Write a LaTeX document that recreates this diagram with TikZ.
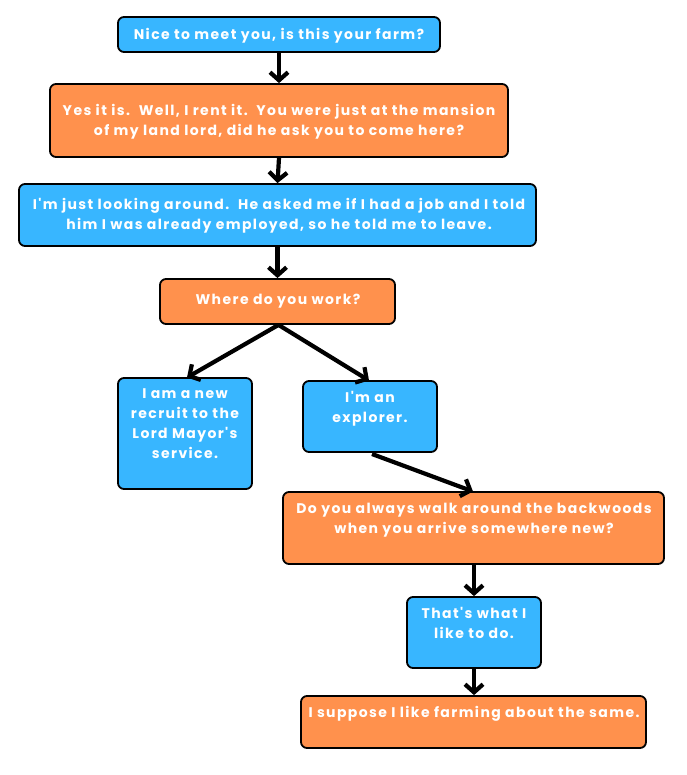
\documentclass[tikz,border=0pt]{standalone}
\usepackage{fontspec}
\newfontfamily\popfont{Poppins}[LetterSpace=10]
\usetikzlibrary{arrows.meta}
\definecolor{cblue}{HTML}{38B6FF}
\definecolor{corange}{HTML}{FF914D}
\tikzset{
  boxbase/.style={draw=black, line width=1.8pt, rounded corners=6pt, inner sep=0pt},
  bluebox/.style={boxbase, fill=cblue},
  orangebox/.style={boxbase, fill=corange},
  txt/.style={text=white, font=\popfont\bfseries\fontsize{14}{20}\selectfont, align=center, inner sep=0pt, anchor=north},
  arr/.style={line width=4.2pt, -{Straight Barb[length=8pt,width=18pt,line width=4.2pt]}, line join=round},
}
\newcommand{\bx}[6]{% name, style, x1, y1, x2, y2
  \node[#2, minimum width=#5-#3, minimum height=#6-#4] (#1) at ({(#3+#5)/2},{(#4+#6)/2}) {};
}
\begin{document}
\begin{tikzpicture}[x=1pt,y=-1pt]
\useasboundingbox (0,0) rectangle (686,775);
\bx{b1}{bluebox}{118}{17}{440}{52}
\bx{b2}{orangebox}{50}{84}{508}{157}
\bx{b3}{bluebox}{19}{184}{536}{246}
\bx{b4}{orangebox}{160}{279}{395}{324}
\bx{b5}{bluebox}{118}{378}{252}{489}
\bx{b6}{bluebox}{303}{381}{437}{452}
\bx{b7}{orangebox}{283}{492}{664}{564}
\bx{b8}{bluebox}{407}{597}{541}{668}
\bx{b9}{orangebox}{301}{696}{646}{748}

\node[txt] (t1) at (279,28) {Nice to meet you, is this your farm?};
\node[txt] (t2) at (279,104) {Yes it is.\ \ Well, I rent it.\ \ You were just at the mansion\\of my land lord, did he ask you to come here?};
\node[txt] (t3) at (279,198.5) {I'm just looking around.\ \ He asked me if I had a job and I told\\him I was already employed, so he told me to leave.};
\node[txt] (t4) at (278,294) {Where do you work?};
\node[txt] (t5) at (185,388) {I am a new\\recruit to the\\Lord Mayor's\\service.};
\node[txt] (t6) at (370,391) {I'm an\\explorer.};
\node[txt] (t7) at (474,503) {Do you always walk around the backwoods\\when you arrive somewhere new?};
\node[txt] (t8) at (474,607) {That's what I\\like to do.};
\node[txt] (t9) at (474,706) {I suppose I like farming about the same.};

\draw[arr] (b1.south) -- (b2.north);
\draw[arr] (b2.south) -- (b3.north);
\draw[arr] (b3.south) -- (b4.north);
\draw[arr] ([xshift=1pt]b4.south) -- (187,377.5);
\draw[arr] ([xshift=1pt]b4.south) -- (369,380.5);
\draw[arr] (372,454) -- (473,491.5);
\draw[arr] (b7.south -| b8.north) -- (b8.north);
\draw[arr] (b8.south) -- (b9.north -| b8.south);
\end{tikzpicture}
\end{document}
